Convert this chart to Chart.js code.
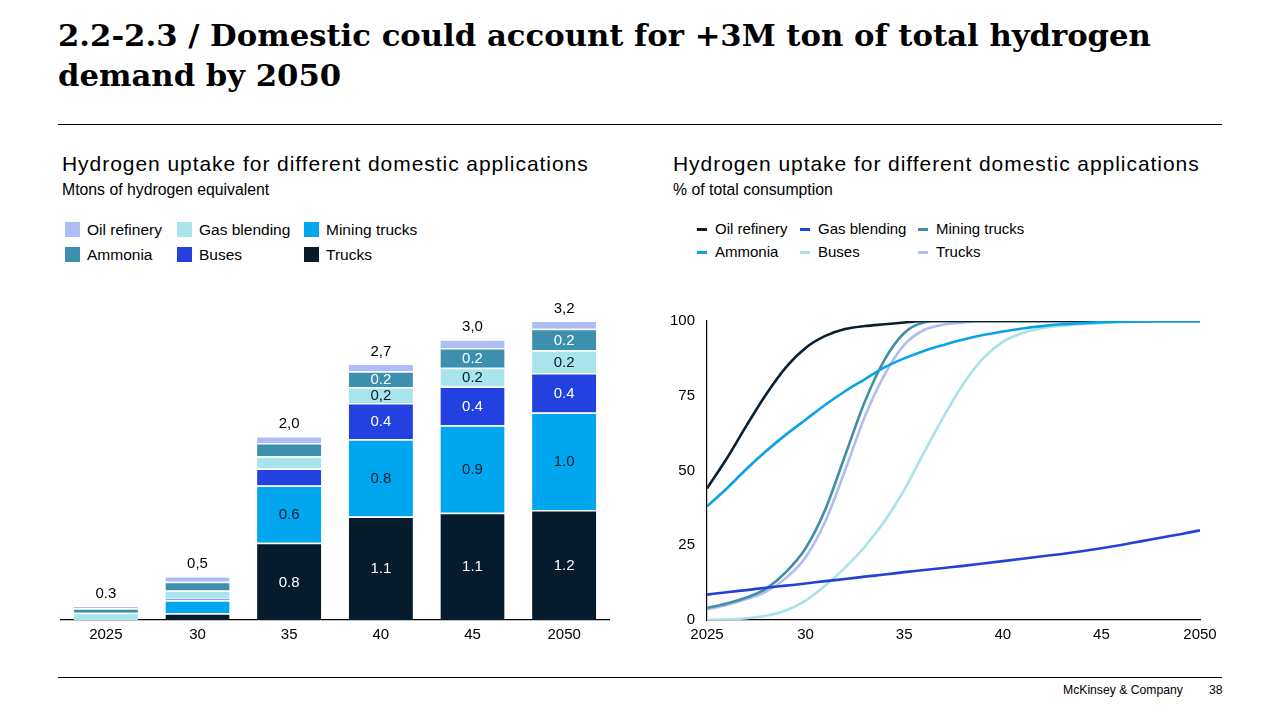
<!DOCTYPE html>
<html lang="en">
<head>
    <meta charset="UTF-8">
    <title>Domestic hydrogen demand by 2050</title>
    <script src="https://cdn.jsdelivr.net/npm/chart.js"></script>
    <style>
        body {
            margin: 0;
            width: 1280px;
            height: 720px;
            position: relative;
            background: #fff;
            font-family: "Liberation Sans", Arial, sans-serif;
            color: #000;
            overflow: hidden;
        }
        .title {
            position: absolute;
            left: 58px;
            top: 15px;
            font-family: "DejaVu Serif", Georgia, serif;
            font-weight: bold;
            font-size: 30.7px;
            line-height: 40px;
            white-space: nowrap;
        }
        .rule {
            position: absolute;
            left: 58px;
            width: 1164px;
            height: 1px;
            background: #000;
        }
        .panel-title {
            position: absolute;
            font-size: 21px;
            letter-spacing: 0.95px;
        }
        .panel-sub {
            position: absolute;
            font-size: 15.8px;
        }
        .legend {
            position: absolute;
        }
        .legend-item {
            position: absolute;
            white-space: nowrap;
        }
        .legend-item .swatch {
            position: absolute;
            left: 0;
        }
        .footer {
            position: absolute;
            top: 683px;
            font-size: 12.2px;
        }
        canvas {
            position: absolute;
        }
    </style>
</head>
<body>
    <div class="title">2.2-2.3 / Domestic could account for +3M ton of total hydrogen<br>demand by 2050</div>
    <div class="rule" style="top: 124px;"></div>

    <div class="panel-title" style="left: 62px; top: 152px;">Hydrogen uptake for different domestic applications</div>
    <div class="panel-sub" style="left: 62px; top: 181px;">Mtons of hydrogen equivalent</div>
    <div class="legend" id="bar-legend" style="font-size: 15.5px;"></div>

    <div class="panel-title" style="left: 673px; top: 152px;">Hydrogen uptake for different domestic applications</div>
    <div class="panel-sub" style="left: 673px; top: 181px;">% of total consumption</div>
    <div class="legend" id="line-legend" style="font-size: 15px;"></div>

    <canvas id="bar-chart" style="left: 60px; top: 290px; width: 550px; height: 360px;"></canvas>
    <canvas id="line-chart" style="left: 650px; top: 300px; width: 580px; height: 350px;"></canvas>

    <div class="rule" style="top: 677px;"></div>
    <div class="footer" style="left: 1063px;">McKinsey &amp; Company</div>
    <div class="footer" style="left: 1209px;">38</div>

    <script>
        // Stacked bars - Mtons of hydrogen equivalent
        const barCategories = ['2025', '30', '35', '40', '45', '2050'];
        const trucksMt = [0, 0.071, 0.82, 1.10, 1.14, 1.17];
        const miningTrucksMt = [0, 0.139, 0.61, 0.82, 0.93, 1.035];
        const busesMt = [0, 0.015, 0.18, 0.385, 0.41, 0.42];
        const gasBlendingMt = [0.078, 0.089, 0.13, 0.17, 0.20, 0.24];
        const ammoniaMt = [0.046, 0.093, 0.14, 0.168, 0.21, 0.23];
        const oilRefineryMt = [0.027, 0.061, 0.075, 0.082, 0.093, 0.086];

        // Labels printed on the bars
        const trucksLabels = [null, null, '0.8', '1.1', '1.1', '1.2'];
        const miningTrucksLabels = [null, null, '0.6', '0.8', '0.9', '1.0'];
        const busesLabels = [null, null, null, '0.4', '0.4', '0.4'];
        const gasBlendingLabels = [null, null, null, '0,2', '0.2', '0.2'];
        const ammoniaLabels = [null, null, null, '0.2', '0.2', '0.2'];
        const oilRefineryLabels = [null, null, null, null, null, null];
        const totalLabels = ['0.3', '0,5', '2,0', '2,7', '3,0', '3,2'];

        // Lines - % of total consumption
        const years = [2025, 2026, 2027, 2028, 2029, 2030, 2031, 2032, 2033, 2034, 2035, 2036, 2037,
                       2038, 2039, 2040, 2041, 2042, 2043, 2044, 2045, 2046, 2047, 2048, 2049, 2050];
        const oilRefineryShare = [44, 54, 65, 75.5, 84.5, 91, 95, 97.3, 98.3, 98.9, 99.5, 100, 100,
                                  100, 100, 100, 100, 100, 100, 100, 100, 100, 100, 100, 100, 100];
        const gasBlendingShare = [8.5, 9.3, 10, 10.8, 11.5, 12.2, 13, 13.7, 14.5, 15.2, 16, 16.7, 17.4,
                                  18.1, 18.9, 19.7, 20.5, 21.3, 22.1, 23, 24, 25.1, 26.3, 27.5, 28.7, 30];
        const miningTrucksShare = [4, 5.5, 7.5, 10.5, 16, 24, 37, 55, 73, 87, 96, 99.5, 100,
                                   100, 100, 100, 100, 100, 100, 100, 100, 100, 100, 100, 100, 100];
        const ammoniaShare = [38, 44, 50.5, 56.5, 62, 67, 72, 76.5, 80.5, 84.5, 87.5, 90, 92,
                              93.8, 95.3, 96.5, 97.5, 98.3, 98.9, 99.3, 99.6, 99.8, 99.9, 100, 100, 100];
        const busesShare = [0, 0.2, 0.6, 1.4, 3.2, 6.5, 11.5, 17.5, 24.5, 33, 43.5, 56, 68,
                            79, 87.5, 93, 96, 97.6, 98.4, 98.9, 99.3, 99.6, 99.8, 100, 100, 100];
        const trucksShare = [3.5, 5, 7, 9.5, 14, 21, 33, 50, 68, 82, 92, 97, 98.8,
                             99.5, 100, 100, 100, 100, 100, 100, 100, 100, 100, 100, 100, 100];
        const shareTicks = [0, 25, 50, 75, 100];
        const yearTicks = [2025, 2030, 2035, 2040, 2045, 2050];

        const FONT = '"Liberation Sans", Arial, sans-serif';

        // Legends (same order in both panels)
        function buildLegend(id, items, left, top, colLefts, rowGap, swatchCss, textOffset) {
            const box = document.getElementById(id);
            box.style.left = left + 'px';
            box.style.top = top + 'px';
            items.forEach(function (item, i) {
                const div = document.createElement('div');
                div.className = 'legend-item';
                div.style.left = colLefts[i % 3] + 'px';
                div.style.top = (Math.floor(i / 3) * rowGap) + 'px';
                div.style.paddingLeft = textOffset + 'px';
                const sw = document.createElement('span');
                sw.className = 'swatch';
                sw.style.cssText = swatchCss;
                sw.style.background = item.color;
                div.appendChild(sw);
                div.appendChild(document.createTextNode(item.name));
                box.appendChild(div);
            });
        }

        buildLegend('bar-legend', [
            { name: 'Oil refinery', color: '#aebdf5' },
            { name: 'Gas blending', color: '#a9e4ec' },
            { name: 'Mining trucks', color: '#00a7ee' },
            { name: 'Ammonia', color: '#3d90ad' },
            { name: 'Buses', color: '#2340e0' },
            { name: 'Trucks', color: '#061c2c' }
        ], 65, 221, [0, 112, 239], 25, 'width:15px;height:15px;top:1px;', 22);

        buildLegend('line-legend', [
            { name: 'Oil refinery', color: '#0b1e2d' },
            { name: 'Gas blending', color: '#2440d8' },
            { name: 'Mining trucks', color: '#3f8fa6' },
            { name: 'Ammonia', color: '#0aa3e6' },
            { name: 'Buses', color: '#a9e3ea' },
            { name: 'Trucks', color: '#b0bdf3' }
        ], 697, 220, [0, 103, 221], 23, 'width:10px;height:3px;top:8px;', 18);

        // Draw values inside segments and totals on top
        const barLabelPlugin = {
            id: 'barLabels',
            afterDatasetsDraw(chart) {
                const ctx = chart.ctx;
                ctx.save();
                ctx.font = '15px ' + FONT;
                ctx.textAlign = 'center';
                ctx.textBaseline = 'middle';
                const tops = [];
                chart.data.datasets.forEach(function (ds, di) {
                    const meta = chart.getDatasetMeta(di);
                    meta.data.forEach(function (bar, i) {
                        tops[i] = tops[i] === undefined ? bar.y : Math.min(tops[i], bar.y);
                        const txt = ds.segmentLabels[i];
                        if (!txt) return;
                        ctx.fillStyle = ds.labelColor;
                        ctx.fillText(txt, bar.x, (bar.y + bar.base) / 2 + 1);
                    });
                });
                ctx.fillStyle = '#000';
                const meta0 = chart.getDatasetMeta(0);
                totalLabels.forEach(function (txt, i) {
                    ctx.fillText(txt, meta0.data[i].x, tops[i] - 12);
                });
                ctx.restore();
            }
        };

        function barSet(label, data, color, labels, labelColor) {
            return {
                label: label,
                data: data,
                backgroundColor: color,
                borderColor: '#fff',
                borderWidth: { top: 1.5, left: 0, right: 0, bottom: 0 },
                borderSkipped: 'bottom',
                segmentLabels: labels,
                labelColor: labelColor
            };
        }

        new Chart(document.getElementById('bar-chart'), {
            type: 'bar',
            data: {
                labels: barCategories,
                datasets: [
                    barSet('Trucks', trucksMt, '#061c2c', trucksLabels, '#fff'),
                    barSet('Mining trucks', miningTrucksMt, '#00a7ee', miningTrucksLabels, '#061c2c'),
                    barSet('Buses', busesMt, '#2340e0', busesLabels, '#fff'),
                    barSet('Gas blending', gasBlendingMt, '#a9e4ec', gasBlendingLabels, '#061c2c'),
                    barSet('Ammonia', ammoniaMt, '#3d90ad', ammoniaLabels, '#fff'),
                    barSet('Oil refinery', oilRefineryMt, '#aebdf5', oilRefineryLabels, '#000')
                ]
            },
            options: {
                responsive: false,
                animation: false,
                devicePixelRatio: 1,
                layout: { padding: { top: 10, left: 0, right: 0, bottom: 0 } },
                datasets: { bar: { categoryPercentage: 1, barPercentage: 0.7 } },
                plugins: { legend: { display: false }, tooltip: { enabled: false } },
                scales: {
                    x: {
                        stacked: true,
                        grid: { display: false, drawTicks: false },
                        border: { display: true, color: '#000', width: 1.2 },
                        ticks: { color: '#000', font: { family: FONT, size: 15 }, padding: 6 }
                    },
                    y: {
                        stacked: true,
                        display: false,
                        min: 0,
                        max: 3.4
                    }
                }
            },
            plugins: [barLabelPlugin]
        });

        function lineSet(label, values, color) {
            return {
                label: label,
                data: years.map(function (yr, i) { return { x: yr, y: values[i] }; }),
                borderColor: color,
                backgroundColor: color,
                borderWidth: 2.6,
                pointRadius: 0,
                cubicInterpolationMode: 'monotone',
                fill: false
            };
        }

        new Chart(document.getElementById('line-chart'), {
            type: 'line',
            data: {
                datasets: [
                    lineSet('Ammonia', ammoniaShare, '#0aa3e6'),
                    lineSet('Oil refinery', oilRefineryShare, '#0b1e2d'),
                    lineSet('Gas blending', gasBlendingShare, '#2440d8'),
                    lineSet('Mining trucks', miningTrucksShare, '#3f8fa6'),
                    lineSet('Trucks', trucksShare, '#b0bdf3'),
                    lineSet('Buses', busesShare, '#a9e3ea')
                ]
            },
            options: {
                responsive: false,
                animation: false,
                devicePixelRatio: 1,
                layout: { padding: { top: 20, left: 8, right: 30, bottom: 0 } },
                plugins: { legend: { display: false }, tooltip: { enabled: false } },
                scales: {
                    x: {
                        type: 'linear',
                        min: 2025,
                        max: 2050,
                        afterBuildTicks: function (axis) {
                            axis.ticks = yearTicks.map(function (v) { return { value: v }; });
                        },
                        grid: { display: false, drawTicks: false },
                        border: { display: true, color: '#000', width: 1.2 },
                        ticks: {
                            color: '#000',
                            font: { family: FONT, size: 15 },
                            padding: 6,
                            maxRotation: 0,
                            callback: function (v) {
                                return (v === 2025 || v === 2050) ? String(v) : String(v).slice(2);
                            }
                        }
                    },
                    y: {
                        min: 0,
                        max: 100,
                        afterBuildTicks: function (axis) {
                            axis.ticks = shareTicks.map(function (v) { return { value: v }; });
                        },
                        grid: { display: false, drawTicks: false },
                        border: { display: true, color: '#000', width: 1.2 },
                        ticks: { color: '#000', font: { family: FONT, size: 15 }, padding: 12 }
                    }
                }
            }
        });
    </script>
</body>
</html>
